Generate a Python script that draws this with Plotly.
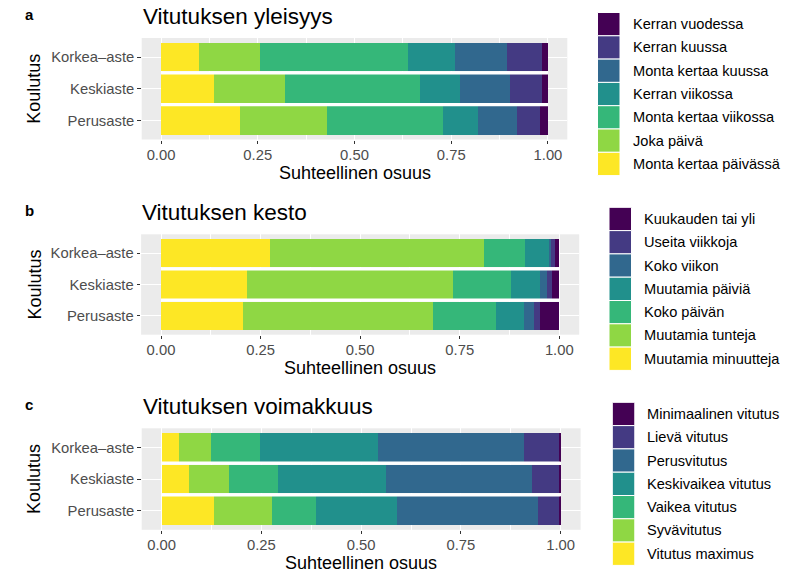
import plotly.graph_objects as go

W, H = 798, 574

# ---------------- data ----------------
education = ["Perusaste", "Keskiaste", "Korkea–aste"]

freq_levels = ["Monta kertaa päivässä", "Joka päivä", "Monta kertaa viikossa",
               "Kerran viikossa", "Monta kertaa kuussa", "Kerran kuussa", "Kerran vuodessa"]
freq_values = [
    [0.204, 0.137, 0.099],
    [0.226, 0.183, 0.156],
    [0.299, 0.350, 0.382],
    [0.089, 0.102, 0.122],
    [0.103, 0.130, 0.136],
    [0.058, 0.083, 0.090],
    [0.021, 0.015, 0.015],
]

dur_levels = ["Muutamia minuutteja", "Muutamia tunteja", "Koko päivän",
              "Muutamia päiviä", "Koko viikon", "Useita viikkoja", "Kuukauden tai yli"]
dur_values = [
    [0.205, 0.215, 0.274],
    [0.478, 0.517, 0.538],
    [0.157, 0.148, 0.102],
    [0.071, 0.071, 0.061],
    [0.026, 0.017, 0.005],
    [0.014, 0.013, 0.008],
    [0.049, 0.019, 0.012],
]

int_levels = ["Vitutus maximus", "Syvävitutus", "Vaikea vitutus", "Keskivaikea vitutus",
              "Perusvitutus", "Lievä vitutus", "Minimaalinen vitutus"]
int_values = [
    [0.132, 0.069, 0.044],
    [0.145, 0.101, 0.080],
    [0.109, 0.121, 0.122],
    [0.205, 0.271, 0.295],
    [0.351, 0.365, 0.367],
    [0.055, 0.070, 0.089],
    [0.003, 0.003, 0.003],
]

colors = ["#FDE725", "#8FD744", "#35B779", "#21908C", "#31688E", "#443A83", "#440154"]

x_ticks = [0, 0.25, 0.5, 0.75, 1.0]
x_ticklabels = ["0.00", "0.25", "0.50", "0.75", "1.00"]

panels = [
    dict(letter="a", title="Vitutuksen yleisyys", levels=freq_levels, values=freq_values,
         px_x=(141.7, 567.3), px_y=(38.0, 139.5), leg_x=597.5, leg_top=12.5, text_x=630.5),
    dict(letter="b", title="Vitutuksen kesto", levels=dur_levels, values=dur_values,
         px_x=(141.1, 579.2), px_y=(234.3, 334.7), leg_x=609.0, leg_top=207.3, text_x=641.5),
    dict(letter="c", title="Vitutuksen voimakkuus", levels=int_levels, values=int_values,
         px_x=(141.7, 580.6), px_y=(428.3, 529.8), leg_x=612.3, leg_top=402.3, text_x=645.0),
]

FONT = "Liberation Sans, Arial, Helvetica, sans-serif"


def PX(x):
    return x / W


def PY(y):
    return 1 - y / H


fig = go.Figure()
layout = dict(width=W, height=H, margin=dict(l=0, r=0, t=0, b=0), autosize=False,
              paper_bgcolor="white", plot_bgcolor="#EBEBEB", barmode="stack", bargap=0.1,
              showlegend=False, font=dict(family=FONT, color="black"))
shapes = []
annotations = []

for k, p in enumerate(panels):
    sfx = "" if k == 0 else str(k + 1)
    xa, ya = "x" + sfx, "y" + sfx
    for lvl, vals, col in zip(p["levels"], p["values"], colors):
        fig.add_trace(go.Bar(x=vals, y=education, orientation="h", name=lvl,
                             marker=dict(color=col, line=dict(width=0)),
                             xaxis=xa, yaxis=ya, showlegend=False,
                             hovertemplate="%{y}: %{x}<extra>" + lvl + "</extra>"))
    x0, x1 = p["px_x"]
    y0, y1 = p["px_y"]
    layout["xaxis" + sfx] = dict(domain=[PX(x0), PX(x1)], anchor=ya, range=[-0.05, 1.05],
                                 tickvals=x_ticks, ticktext=x_ticklabels, ticks="outside",
                                 ticklen=3.5, tickwidth=1, tickcolor="#333333",
                                 ticklabelstandoff=-2,
                                 tickfont=dict(size=14.8, color="#4D4D4D", family=FONT),
                                 showgrid=True, gridcolor="white", gridwidth=1.2,
                                 minor=dict(tickvals=[0.125, 0.375, 0.625, 0.875],
                                            showgrid=True, gridcolor="white", gridwidth=0.6,
                                            ticks=""),
                                 zeroline=False, showline=False, fixedrange=True,
                                 automargin=False)
    layout["yaxis" + sfx] = dict(domain=[PY(y1), PY(y0)], anchor=xa, type="category",
                                 categoryorder="array", categoryarray=education,
                                 range=[-0.6, len(education) - 0.4],
                                 ticks="outside", ticklen=3.5, tickwidth=1, tickcolor="#333333",
                                 tickfont=dict(size=14.8, color="#4D4D4D", family=FONT),
                                 showgrid=True, gridcolor="white", gridwidth=1.2,
                                 zeroline=False, showline=False, fixedrange=True,
                                 automargin=False)
    # white separators between bars
    for i in range(len(education) - 1):
        shapes.append(dict(type="line", xref=xa, yref=ya, x0=0, x1=1, y0=i + 0.5, y1=i + 0.5,
                           line=dict(color="white", width=3.2), layer="above"))
    # panel letter and title
    annotations.append(dict(text="<b>" + p["letter"] + "</b>", xref="paper", yref="paper",
                            x=PX(22.5), y=PY(y0 - 23.5), xanchor="left", yanchor="middle",
                            showarrow=False, font=dict(size=15, color="black", family=FONT)))
    annotations.append(dict(text=p["title"], xref="paper", yref="paper",
                            x=PX(x0 - 1), y=PY(y0 - 21.5), xanchor="left", yanchor="middle",
                            showarrow=False, font=dict(size=22.5, color="black", family=FONT)))
    # axis titles
    annotations.append(dict(text="Suhteellinen osuus", xref="paper", yref="paper",
                            x=PX((x0 + x1) / 2), y=PY(y1 + 33.5), xanchor="center",
                            yanchor="middle", showarrow=False,
                            font=dict(size=18, color="black", family=FONT)))
    annotations.append(dict(text="Koulutus", xref="paper", yref="paper", textangle=-90,
                            x=PX(34), y=PY((y0 + y1) / 2), xanchor="center",
                            yanchor="middle", showarrow=False,
                            font=dict(size=18, color="black", family=FONT)))
    # legend (top = last level)
    key_h, key_w = 23.3, 22.5
    for j, (lvl, col) in enumerate(zip(reversed(p["levels"]), reversed(colors))):
        top = p["leg_top"] + j * key_h
        shapes.append(dict(type="rect", xref="paper", yref="paper",
                           x0=PX(p["leg_x"]), x1=PX(p["leg_x"] + key_w),
                           y0=PY(top + key_h), y1=PY(top),
                           fillcolor=col, line=dict(color="white", width=1)))
        annotations.append(dict(text=lvl, xref="paper", yref="paper",
                                x=PX(p["text_x"]), y=PY(top + key_h / 2),
                                xanchor="left", yanchor="middle", showarrow=False,
                                font=dict(size=14.6, color="black", family=FONT)))

layout["shapes"] = shapes
layout["annotations"] = annotations
fig.update_layout(**layout)
fig.write_html("out.html", config={"displayModeBar": False},
               post_script="document.body.style.margin='0px';document.body.style.overflow='hidden';")
